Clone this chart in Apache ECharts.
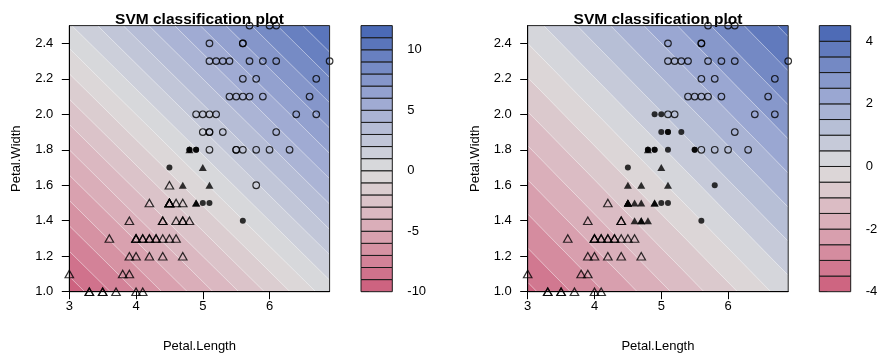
<!DOCTYPE html>
<html>
<head>
<meta charset="utf-8">
<script src="https://cdn.jsdelivr.net/npm/echarts@6/dist/echarts.min.js"></script>
<style>
  html, body { margin: 0; background: #fff; }
  #chart { width: 878px; height: 353px; }
</style>
</head>
<body>
<div id="chart"></div>
<script>
// iris versicolor (triangles) and virginica (circles), petal length / width
const versicolorLength = [4.7,4.5,4.9,4.0,4.6,4.5,4.7,3.3,4.6,3.9,3.5,4.2,4.0,4.7,3.6,4.4,4.5,4.1,4.5,3.9,4.8,4.0,4.9,4.7,4.3,4.4,4.8,5.0,4.5,3.5,3.8,3.7,3.9,5.1,4.5,4.5,4.7,4.4,4.1,4.0,4.4,4.6,4.0,3.3,4.2,4.2,4.2,4.3,3.0,4.1];
const versicolorWidth  = [1.4,1.5,1.5,1.3,1.5,1.3,1.6,1.0,1.3,1.4,1.0,1.5,1.0,1.4,1.3,1.4,1.5,1.0,1.5,1.1,1.8,1.3,1.5,1.2,1.3,1.4,1.4,1.7,1.5,1.0,1.1,1.0,1.2,1.6,1.5,1.6,1.5,1.3,1.3,1.3,1.2,1.4,1.2,1.0,1.3,1.2,1.3,1.3,1.1,1.3];
const virginicaLength  = [6.0,5.1,5.9,5.6,5.8,6.6,4.5,6.3,5.8,6.1,5.1,5.3,5.5,5.0,5.1,5.3,5.5,6.7,6.9,5.0,5.7,4.9,6.7,4.9,5.7,6.0,4.8,4.9,5.6,5.8,6.1,6.4,5.6,5.1,5.6,6.1,5.6,5.5,4.8,5.4,5.6,5.1,5.1,5.9,5.7,5.2,5.0,5.2,5.4,5.1];
const virginicaWidth   = [2.5,1.9,2.1,1.8,2.2,2.1,1.7,1.8,1.8,2.5,2.0,1.9,2.1,2.0,2.4,2.3,1.8,2.2,2.3,1.5,2.3,2.0,2.0,1.8,2.1,1.8,1.8,1.8,2.1,1.6,1.9,2.0,2.2,1.5,1.4,2.3,2.4,1.8,1.8,2.1,2.4,2.3,1.9,2.3,2.5,2.3,1.9,2.0,2.3,1.8];

// support vectors (filled symbols), indices into the arrays above
const svVersicolorLeft  = [2,6,20,22,27,33];
const svVirginicaLeft   = [6,19,23,26,27,33,34,38];
const svVersicolorRight = [0,1,2,4,6,13,16,18,20,22,26,27,28,33,34,35,36,41];
const svVirginicaRight  = [1,6,11,13,16,19,21,23,26,27,29,33,34,37,38,42,46,49];

// decision value = wLength*Petal.Length + wWidth*Petal.Width + b
const fieldLeft  = { wLength: 2.6, wWidth: 7.0, b: -24.4 };
const fieldRight = { wLength: 1.0, wWidth: 2.6, b: -9.24 };

// contour levels (colour key)
const levelsLeft  = [-10,-9,-8,-7,-6,-5,-4,-3,-2,-1,0,1,2,3,4,5,6,7,8,9,10,11,12];
const levelsRight = [-4,-3.5,-3,-2.5,-2,-1.5,-1,-0.5,0,0.5,1,1.5,2,2.5,3,3.5,4,4.5];

const xTicks = [3, 4, 5, 6];
const yTicks = [1.0, 1.2, 1.4, 1.6, 1.8, 2.0, 2.2, 2.4];
const keyTicksLeft  = [-10, -5, 0, 5, 10];
const keyTicksRight = [-4, -2, 0, 2, 4];

const xRange = [3, 6.9];
const yRange = [1.0, 2.5];

const FONT = '"Liberation Sans", Arial, Helvetica, sans-serif';

// colours: grey in the middle, pink below 0, blue above 0
function mix(a, b, t) {
  return a.map((v, i) => Math.round(v + (b[i] - v) * t));
}
function bandColor(mid, lo, hi) {
  const grey = [220, 220, 220];
  let midC, endC, t;
  if (mid < 0) { t = mid / lo; midC = [218, 169, 181]; endC = [204, 91, 122]; }
  else { t = mid / hi; midC = [154, 167, 210]; endC = [68, 100, 179]; }
  const c = t < 0.5 ? mix(grey, midC, t / 0.5) : mix(midC, endC, (t - 0.5) / 0.5);
  return 'rgb(' + c.join(',') + ')';
}

function bands(levels) {
  const out = [];
  for (let i = 0; i < levels.length - 1; i++) out.push([levels[i], levels[i + 1]]);
  return out;
}

// clip polygon (data coords) to f >= level (sign 1) or f <= level (sign -1)
function clipHalf(poly, f, level, sign) {
  const out = [];
  for (let i = 0; i < poly.length; i++) {
    const P = poly[i], Q = poly[(i + 1) % poly.length];
    const gP = sign * (f(P) - level), gQ = sign * (f(Q) - level);
    if (gP >= 0) out.push(P);
    if ((gP >= 0) !== (gQ >= 0)) {
      const t = gP / (gP - gQ);
      out.push([P[0] + t * (Q[0] - P[0]), P[1] + t * (Q[1] - P[1])]);
    }
  }
  return out;
}

function contourSeries(gridIdx, field, levels) {
  const f = p => field.wLength * p[0] + field.wWidth * p[1] + field.b;
  const lo = levels[0], hi = levels[levels.length - 1];
  return {
    type: 'custom',
    xAxisIndex: gridIdx, yAxisIndex: gridIdx,
    data: bands(levels),
    silent: true,
    z: 1,
    renderItem(params, api) {
      const a = api.value(0), b = api.value(1);
      let poly = [[xRange[0], yRange[0]], [xRange[1], yRange[0]], [xRange[1], yRange[1]], [xRange[0], yRange[1]]];
      poly = clipHalf(poly, f, a, 1);
      if (poly.length) poly = clipHalf(poly, f, b, -1);
      if (poly.length < 3) return null;
      return {
        type: 'polygon',
        shape: { points: poly.map(p => api.coord(p)) },
        style: { fill: bandColor((a + b) / 2, lo, hi), stroke: 'rgba(255,255,255,0.35)', lineWidth: 0.6 }
      };
    }
  };
}

function keySeries(axisIdx, levels) {
  const lo = levels[0], hi = levels[levels.length - 1];
  return {
    type: 'custom',
    xAxisIndex: axisIdx, yAxisIndex: axisIdx,
    data: bands(levels),
    silent: true,
    renderItem(params, api) {
      const a = api.value(0), b = api.value(1);
      const p1 = api.coord([0, b]), p2 = api.coord([1, a]);
      return {
        type: 'rect',
        shape: { x: p1[0], y: p1[1], width: p2[0] - p1[0], height: p2[1] - p1[1] },
        style: { fill: bandColor((a + b) / 2, lo, hi), stroke: '#1a1a1a', lineWidth: 1 }
      };
    }
  };
}

function pts(lens, wids, idx, want) {
  const out = [];
  for (let i = 0; i < lens.length; i++) {
    if (idx.includes(i) === want) out.push([lens[i], wids[i]]);
  }
  return out;
}

function pointSeries(gridIdx, svVers, svVirg) {
  const base = { type: 'scatter', xAxisIndex: gridIdx, yAxisIndex: gridIdx, clip: true, silent: true, z: 5 };
  const hollow = { color: 'rgba(0,0,0,0)', borderColor: '#000', borderWidth: 1.2 };
  return [
    Object.assign({}, base, { data: pts(versicolorLength, versicolorWidth, svVers, false), symbol: 'triangle', symbolSize: [8.5, 7.5], itemStyle: hollow }),
    Object.assign({}, base, { data: pts(versicolorLength, versicolorWidth, svVers, true), symbol: 'triangle', symbolSize: [8, 7], itemStyle: { color: '#000' } }),
    Object.assign({}, base, { data: pts(virginicaLength, virginicaWidth, svVirg, false), symbol: 'circle', symbolSize: 6.6, itemStyle: hollow }),
    Object.assign({}, base, { data: pts(virginicaLength, virginicaWidth, svVirg, true), symbol: 'circle', symbolSize: 6, itemStyle: { color: '#000' } })
  ];
}

const axisText = { color: '#000', fontSize: 13, fontFamily: FONT };
const tickStyle = { color: '#000', width: 1 };

function plotXAxis(gridIdx) {
  return {
    type: 'value', gridIndex: gridIdx, min: xRange[0], max: xRange[1], z: 10,
    name: 'Petal.Length', nameLocation: 'middle', nameGap: 48.5, nameTextStyle: axisText,
    axisLine: { show: true, lineStyle: tickStyle },
    axisTick: { show: true, length: 7.5, lineStyle: tickStyle, customValues: xTicks },
    axisLabel: Object.assign({ margin: 8, customValues: xTicks }, axisText),
    splitLine: { show: false }
  };
}
function plotYAxis(gridIdx) {
  return {
    type: 'value', gridIndex: gridIdx, min: yRange[0], max: yRange[1], z: 10,
    name: 'Petal.Width', nameLocation: 'middle', nameGap: 46, nameTextStyle: axisText,
    axisLine: { show: true, lineStyle: tickStyle },
    axisTick: { show: true, length: 7.5, lineStyle: tickStyle, customValues: yTicks },
    axisLabel: Object.assign({ margin: 16, customValues: yTicks, formatter: v => v.toFixed(1) }, axisText),
    splitLine: { show: false }
  };
}
function keyXAxis(gridIdx) {
  return { type: 'value', gridIndex: gridIdx, min: 0, max: 1, show: false };
}
function keyYAxis(gridIdx, levels, ticks) {
  return {
    type: 'value', gridIndex: gridIdx, position: 'right',
    min: levels[0], max: levels[levels.length - 1],
    axisLine: { show: false },
    axisTick: { show: true, length: 8, lineStyle: tickStyle, customValues: ticks },
    axisLabel: Object.assign({ margin: 15, customValues: ticks }, axisText),
    splitLine: { show: false }
  };
}

const frame = { show: true, borderColor: '#222', borderWidth: 1, backgroundColor: 'transparent', z: 10, outerBoundsMode: 'none' };

const chart = echarts.init(document.getElementById('chart'), null, { renderer: 'canvas' });
chart.setOption({
  animation: false,
  backgroundColor: '#fff',
  title: [
    { text: 'SVM classification plot', left: 194.5, top: 7, textAlign: 'center',
      textStyle: { fontSize: 15.5, fontWeight: 'bold', color: '#000', fontFamily: FONT } },
    { text: 'SVM classification plot', left: 653, top: 7, textAlign: 'center',
      textStyle: { fontSize: 15.5, fontWeight: 'bold', color: '#000', fontFamily: FONT } }
  ],
  grid: [
    Object.assign({ left: 69.3, top: 25.6, width: 260.3, height: 266.1 }, frame),
    Object.assign({ left: 527.7, top: 25.6, width: 260.5, height: 266.1 }, frame),
    { left: 361, top: 25.6, width: 31.3, height: 266.1, show: false, outerBoundsMode: 'none' },
    { left: 819.3, top: 25.6, width: 31.4, height: 266.1, show: false, outerBoundsMode: 'none' }
  ],
  xAxis: [plotXAxis(0), plotXAxis(1), keyXAxis(2), keyXAxis(3)],
  yAxis: [plotYAxis(0), plotYAxis(1), keyYAxis(2, levelsLeft, keyTicksLeft), keyYAxis(3, levelsRight, keyTicksRight)],
  series: [
    contourSeries(0, fieldLeft, levelsLeft),
    contourSeries(1, fieldRight, levelsRight),
    keySeries(2, levelsLeft),
    keySeries(3, levelsRight)
  ].concat(pointSeries(0, svVersicolorLeft, svVirginicaLeft), pointSeries(1, svVersicolorRight, svVirginicaRight))
});
</script>
</body>
</html>
